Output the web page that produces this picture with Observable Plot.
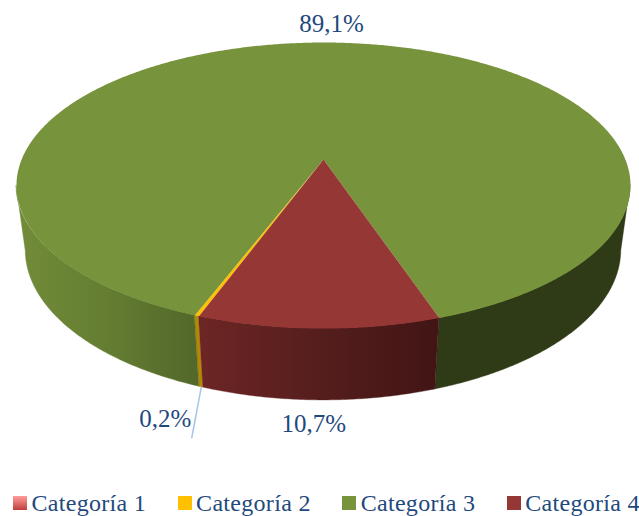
<!DOCTYPE html>
<html lang="es">
<head>
<meta charset="utf-8">
<script src="https://cdn.jsdelivr.net/npm/d3@7"></script>
<script src="https://cdn.jsdelivr.net/npm/@observablehq/plot@0.6"></script>
<style>
  html, body { margin: 0; padding: 0; background: #fff; }
  #chart svg { display: block; background: #fff; }
  .legend { display: flex; height: 26px; padding-left: 13px; align-items: center;
            font: 24px "Liberation Serif", serif; letter-spacing: 0.3px; color: #1f497d; white-space: nowrap; }
  .item { display: flex; align-items: center; width: 164.6px; flex: none; }
  .swatch { width: 14px; height: 14px; margin-right: 4.5px; flex: none; }
</style>
</head>
<body>
<div id="chart"></div>
<div class="legend" id="legend"></div>
<script>
// ---- data ----
const categories = ["Categoría 1", "Categoría 2", "Categoría 3", "Categoría 4"];
const shares = [0, 0.2, 89.1, 10.7];
const firstSliceAngle = 200;

// ---- styles ----
const topColors = ["#c0504d", "#ffc000", "#77933c", "#953735"];
const swatchFills = ["linear-gradient(#ff9d9a, #bf3f3c)", "#ffc000", "#77933c", "#953735"];
const textColor = "#1f497d";
const font = '"Liberation Serif", serif';

// ---- projection of the tilted disc ----
const W = 639, H = 490;
const k = 0.1818;                // perspective foreshortening
const yScaleFactor = 0.4581;     // vertical squash of the disc
const wallDepth = 0.2186;        // thickness of the pie
const wallPersp = 1.03;          // lower disc sits further away

const project = (angle, r, lower) => {
  const t = angle * Math.PI / 180;
  const X = r * Math.sin(t), Y = -r * Math.cos(t);
  const w = (lower ? wallPersp : 1) - k * Y;
  return {
    x: X / w,
    y: (Y + (lower ? wallDepth / yScaleFactor : 0)) / w
  };
};

// ---- slices from the shares ----
let acc = firstSliceAngle;
const total = d3.sum(shares);
const slices = categories.map((name, i) => {
  const start = acc;
  acc += shares[i] / total * 360;
  return {name, share: shares[i], start, end: acc, mid: (start + acc) / 2, i};
}).filter(d => d.share > 0);

const arc = (a0, a1, lower) => {
  const n = Math.max(2, Math.ceil((a1 - a0) / 0.5));
  return d3.range(n + 1).map(j => project(a0 + (a1 - a0) * j / n, 1, lower));
};

// top faces
const topFaces = slices.map(s => ({
  fill: topColors[s.i],
  points: [project(0, 0, false), ...arc(s.start, s.end, false), project(0, 0, false)]
}));

// wall pieces, only the angles that face the viewer
const visFrom = 180 - Math.acos(k) * 180 / Math.PI;
const visTo = 360 - visFrom;
const wallFill = {
  1: () => "#b68a00",
  2: a => a > 180 ? "url(#wallGreenLeft)" : "#2f3a16",
  3: () => "url(#wallRed)"
};
const walls = [];
for (const s of slices) {
  for (const shift of [0, -360]) {
    const a = Math.max(s.start + shift, visFrom), b = Math.min(s.end + shift, visTo);
    if (b > a) {
      const up = arc(a, b, false), lo = arc(a, b, true);
      walls.push({
        fill: wallFill[s.i](a),
        rows: up.map((p, j) => ({x1: p.x, y1: p.y, x2: lo[j].x, y2: lo[j].y}))
      });
    }
  }
}

// labels: anchored on the rim at each slice's middle
const label = d => d.share.toFixed(1).replace(".", ",") + "%";
const labelOffset = {1: [-36, 32], 2: [3, -19], 3: [-5, 24]};
const labelRows = slices.map(s => {
  const a = s.mid % 360;
  const p = project(s.mid, 1, a > 90 && a < 270);
  return {...p, text: label(s), dx: labelOffset[s.i][0], dy: labelOffset[s.i][1]};
});
const cat2 = slices.find(s => s.i === 1);
const leaderStart = project(cat2.mid, 1, true);
const leader = [{x1: leaderStart.x, y1: leaderStart.y, x2: leaderStart.x - 0.032, y2: leaderStart.y + 0.37}];

const defs = () => {
  const d = d3.create("svg:defs");
  const grad = (id, stops) => {
    const g = d.append("linearGradient").attr("id", id)
      .attr("x1", 0).attr("x2", 1).attr("y1", 0).attr("y2", 0);
    stops.forEach(([o, c]) => g.append("stop").attr("offset", o).attr("stop-color", c));
  };
  grad("wallGreenLeft", [[0, "#728c39"], [0.5, "#647d32"], [1, "#52672a"]]);
  grad("wallRed", [[0, "#6c2625"], [0.5, "#551e1d"], [1, "#411514"]]);
  return d.node();
};

const plot = Plot.plot({
  width: W,
  height: H,
  margin: 0,
  x: {domain: [-1.0699, 1.0467], range: [0, W], axis: null},
  y: {domain: [-1.15, 2.393], range: [0, H], axis: null},
  marks: [
    defs,
    ...walls.map(w => Plot.area(w.rows, {x1: "x1", y1: "y1", x2: "x2", y2: "y2", fill: w.fill, stroke: w.fill, strokeWidth: 0.4})),
    ...topFaces.map(f => Plot.line(f.points, {x: "x", y: "y", fill: f.fill, stroke: "none"})),
    Plot.link(leader, {x1: "x1", y1: "y1", x2: "x2", y2: "y2", stroke: "#a4c4ea", strokeWidth: 1.5}),
    ...labelRows.map(r => Plot.text([r], {x: "x", y: "y", text: "text", dx: r.dx, dy: r.dy, fill: textColor, fontSize: 25, fontFamily: font}))
  ]
});
document.getElementById("chart").append(plot);

const legend = d3.select("#legend");
categories.forEach((c, i) => {
  const item = legend.append("div").attr("class", "item");
  item.append("span").attr("class", "swatch").style("background", swatchFills[i]);
  item.append("span").text(c);
});
</script>
</body>
</html>
